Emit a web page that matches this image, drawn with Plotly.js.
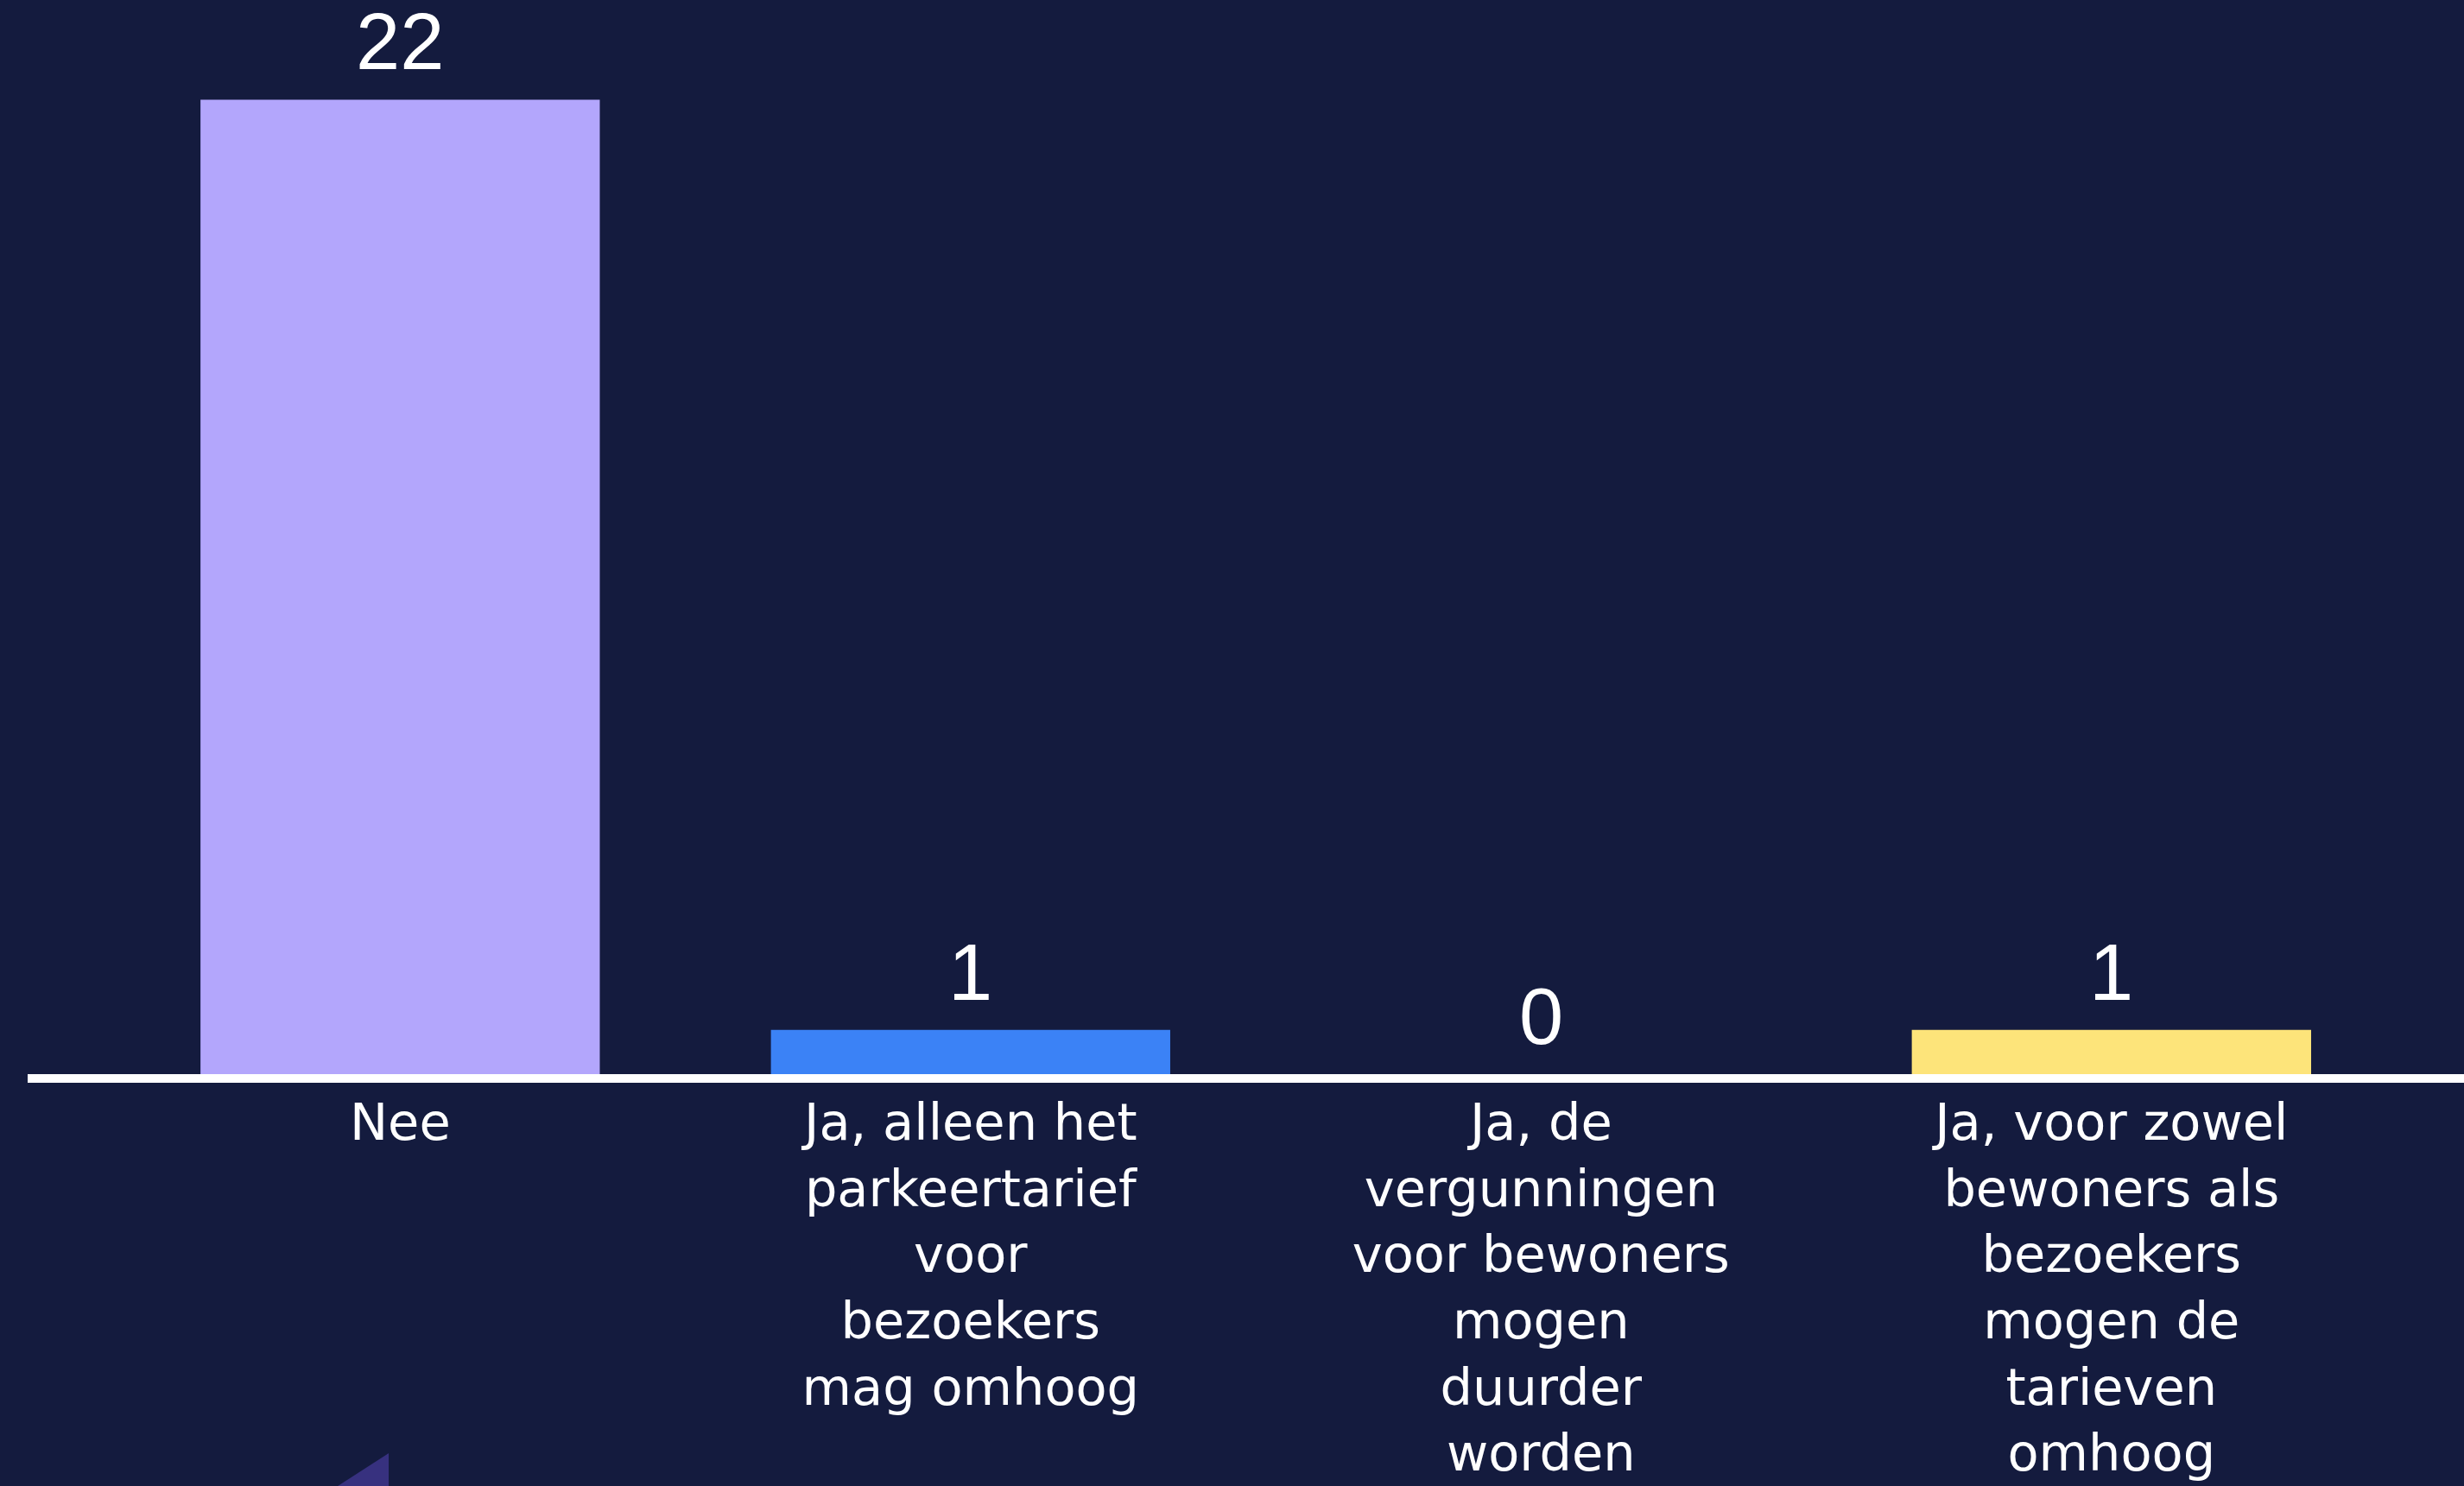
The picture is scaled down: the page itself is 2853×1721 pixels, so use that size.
<!DOCTYPE html>
<html>
<head>
<meta charset="utf-8">
<script src="https://cdn.plot.ly/plotly-3.0.1.min.js"></script>
<style>
  html, body { margin: 0; padding: 0; background: #141b3e; }
  #chart { width: 2853px; height: 1721px; }
</style>
</head>
<body>
<div id="chart"></div>
<script>
const categories = [
  "Nee",
  "Ja, alleen het<br>parkeertarief<br>voor<br>bezoekers<br>mag omhoog",
  "Ja, de<br>vergunningen<br>voor bewoners<br>mogen<br>duurder<br>worden",
  "Ja, voor zowel<br>bewoners als<br>bezoekers<br>mogen de<br>tarieven<br>omhoog"
];
const values = [22, 1, 0, 1];
const barColors = ["#b3a6fc", "#3b82f6", "#8fd3c8", "#fde47a"];

const annotations = categories.map((c, i) => ({
  x: c, y: values[i], xref: "x", yref: "y",
  text: String(values[i]),
  showarrow: false, yanchor: "bottom", yshift: 15, borderpad: 0,
  font: { family: "Liberation Sans, Arial, sans-serif", size: 92, color: "#ffffff" }
}));

const trace = {
  type: "bar",
  x: categories,
  y: values,
  width: 0.7,
  marker: { color: barColors, line: { width: 0 } },
  hoverinfo: "skip"
};

const layout = {
  width: 2853, height: 1721,
  paper_bgcolor: "#141b3e",
  plot_bgcolor: "#141b3e",
  margin: { l: 32, r: 0, t: 0, b: 477, pad: 0 },
  showlegend: false,
  bargap: 0.3,
  xaxis: {
    type: "category",
    range: [-0.653, 3.618],
    showline: true, linecolor: "#ffffff", linewidth: 10,
    showgrid: false, zeroline: false, ticks: "",
    ticklabelstandoff: -5,
    tickfont: { family: "DejaVu Sans, sans-serif", size: 59, color: "#ffffff" },
    automargin: false
  },
  yaxis: {
    range: [0, 24.25],
    visible: false, showgrid: false, zeroline: false, fixedrange: true
  },
  annotations: annotations,
  shapes: [{
    type: "path", xref: "paper", yref: "paper",
    path: "M 0.1482 -0.3529 L 0.1482 -0.40 L 0.1160 -0.40 Z",
    fillcolor: "#37317f", line: { width: 0 }, layer: "below"
  }]
};

Plotly.newPlot("chart", [trace], layout, { staticPlot: true, displayModeBar: false });
</script>
</body>
</html>
